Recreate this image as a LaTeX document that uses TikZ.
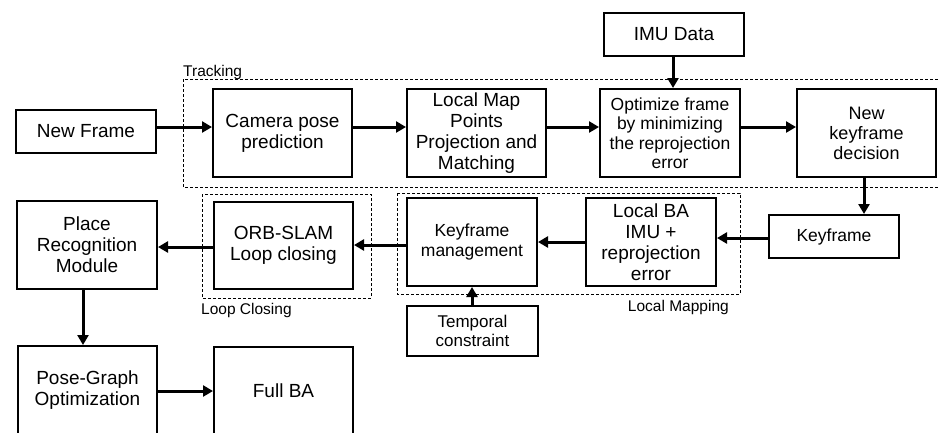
\documentclass[tikz,border=0pt]{standalone}
\usepackage{fontspec}
\setmainfont{Liberation Sans}
\usetikzlibrary{arrows.meta}
\begin{document}
\begin{tikzpicture}[x=1pt,y=-1pt,
 blk/.style={draw,line width=2pt,align=center,inner sep=0pt,font=\fontsize{19}{21}\selectfont},
 mid/.style={font=\fontsize{18}{20}\selectfont},
 sml/.style={font=\fontsize{17.5}{19.5}\selectfont},
 tiny/.style={font=\fontsize{17}{19.5}\selectfont},
 grp/.style={draw,line width=1pt,dash pattern=on 3pt off 2pt},
 lbl/.style={inner sep=0pt,font=\fontsize{15.5}{17}\selectfont},
 arr/.style={line width=3pt,-{Triangle[length=10pt,width=11pt]}}]
\useasboundingbox (0,0) rectangle (940,432);
\clip (0,0) rectangle (940,432);
% groups
\draw[grp] (183,79) rectangle (950,187);
\draw[grp] (202,194) rectangle (371,298);
\draw[grp] (397,193) rectangle (740,294);
\node[lbl,anchor=base west] (ltrack) at (183,76) {Tracking};
\node[lbl,anchor=base west] (lloop) at (201,314) {Loop Closing};
\node[lbl,anchor=base east] (lmap) at (729,311) {Local Mapping};
% boxes
\node[blk,minimum width=140,minimum height=43] (newframe) at (86,131.5) {New Frame};
\node[blk,minimum width=139,minimum height=88] (campose) at (282.5,133) {Camera pose\\prediction};
\node[blk,minimum width=139,minimum height=88] (localmap) at (476.5,133) {Local Map\\Points\\Projection and\\Matching};
\node[blk,sml,minimum width=140,minimum height=88] (optimize) at (670,133) {Optimize frame\\by minimizing\\the reprojection\\error};
\node[blk,mid,minimum width=139,minimum height=88] (newkf) at (866.5,133) {New\\keyframe\\decision};
\node[blk,minimum width=140,minimum height=43] (imu) at (674,34.5) {IMU Data};
\node[blk,sml,minimum width=130,minimum height=43] (keyframe) at (834,236.5) {Keyframe};
\node[blk,minimum width=130,minimum height=88] (localba) at (651,242) {Local BA\\IMU +\\reprojection\\error};
\node[blk,sml,minimum width=130,minimum height=88] (kfm) at (472,242) {Keyframe\\management};
\node[blk,tiny,minimum width=131,minimum height=50] (temporal) at (472.5,331) {Temporal\\constraint};
\node[blk,minimum width=139,minimum height=87] (orb) at (283.5,245.5) {ORB-SLAM\\Loop closing};
\node[blk,minimum width=140,minimum height=88] (place) at (87,245) {Place\\Recognition\\Module};
\node[blk,minimum width=139,minimum height=88] (posegraph) at (87.5,390) {Pose-Graph\\Optimization};
\node[blk,minimum width=139,minimum height=88] (fullba) at (283.5,391) {Full BA};
% arrows
\draw[arr] (newframe.east |- 0,127) -- (campose.west |- 0,127);
\draw[arr] (campose.east |- 0,127) -- (localmap.west |- 0,127);
\draw[arr] (localmap.east |- 0,127) -- (optimize.west |- 0,127);
\draw[arr] (optimize.east |- 0,127) -- (newkf.west |- 0,127);
\draw[arr] (imu.south -| 673,0) -- (optimize.north -| 673,0);
\draw[arr] (newkf.south -| 864,0) -- (keyframe.north -| 864,0);
\draw[arr] (keyframe.west |- 0,238) -- (localba.east |- 0,238);
\draw[arr] (localba.west |- 0,242) -- (kfm.east |- 0,242);
\draw[arr] (kfm.west |- 0,245) -- (orb.east |- 0,245);
\draw[arr] (orb.west |- 0,247) -- (place.east |- 0,247);
\draw[arr] (place.south -| 83,0) -- (posegraph.north -| 83,0);
\draw[arr] (posegraph.east |- 0,391) -- (fullba.west |- 0,391);
\draw[arr] (temporal.north -| 472,0) -- (kfm.south -| 472,0);
\end{tikzpicture}
\end{document}
